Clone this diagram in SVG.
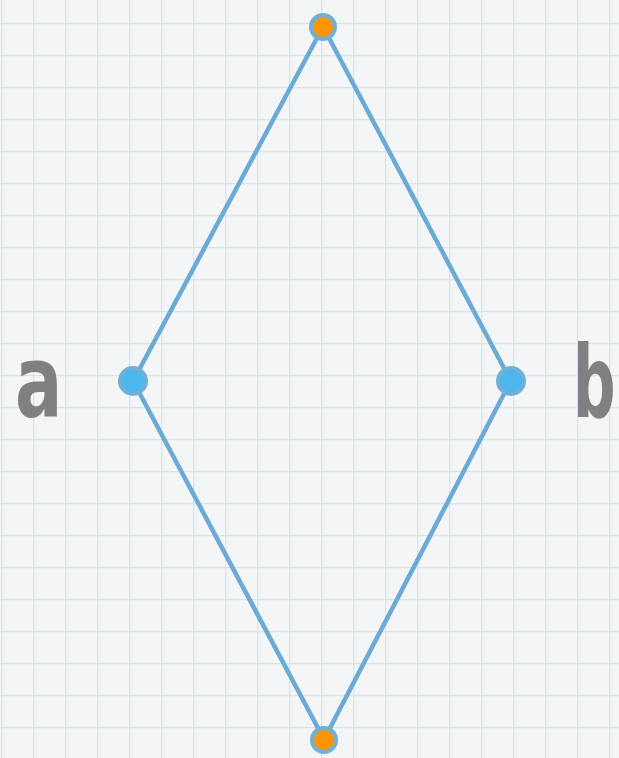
<svg xmlns="http://www.w3.org/2000/svg" width="619" height="758" viewBox="0 0 619 758">
<style>
.edge{stroke:#6aaad6;stroke-width:4.5;fill:none;stroke-linecap:round}
.ring{stroke:#70b0d8;stroke-width:4}
.top{fill:#ff9600}
.side{fill:#4db6ec}
.lbl{font-family:"DejaVu Sans Condensed","DejaVu Sans",sans-serif;font-weight:bold;font-size:100px;fill:#808080}
</style>
<defs>
<pattern id="grid" x="1" y="23" width="32" height="32" patternUnits="userSpaceOnUse">
<path d="M0 0V32M0 0H32" stroke="#d9e4e9" stroke-width="2.5" fill="none"/>
</pattern>
</defs>
<rect width="619" height="758" fill="#f4f5f6"/>
<rect width="619" height="758" fill="url(#grid)"/>
<g id="connectors">
<line class="edge" x1="317" y1="38" x2="139" y2="370"/>
<line class="edge" x1="329" y1="38" x2="505" y2="370"/>
<line class="edge" x1="139" y1="392" x2="318" y2="728"/>
<line class="edge" x1="505" y1="392" x2="330" y2="728"/>
</g>
<g id="top"><circle class="ring top" cx="323" cy="27" r="12"/></g>
<g id="bottom"><circle class="ring top" cx="324" cy="740" r="12"/></g>
<g id="a"><circle class="ring side" cx="133" cy="381" r="13"/><text class="lbl" transform="translate(15,417) scale(0.78,1)">a</text></g>
<g id="b"><circle class="ring side" cx="511" cy="381" r="13"/><text class="lbl" transform="translate(573,417) scale(0.66,1)">b</text></g>
</svg>
